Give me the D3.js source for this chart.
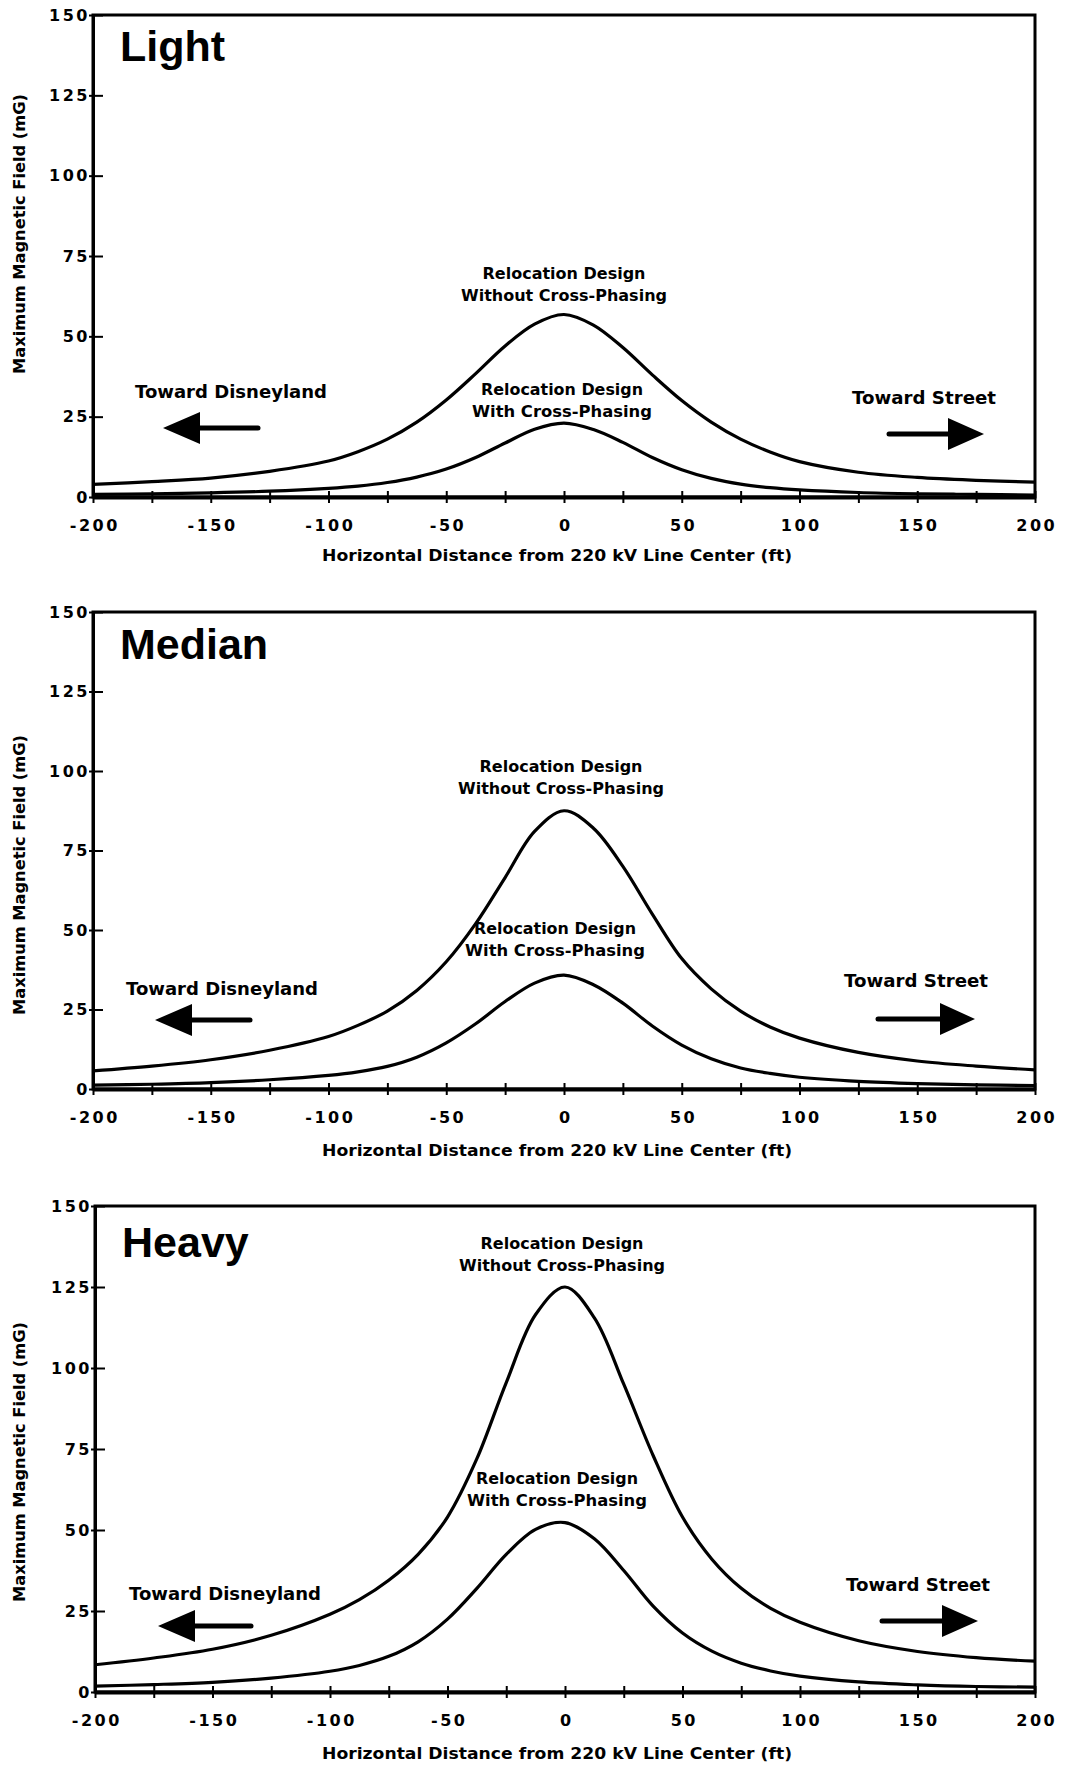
<!DOCTYPE html>
<html>
<head>
<meta charset="utf-8">
<script src="https://cdn.jsdelivr.net/npm/d3@7"></script>
<style>
  html, body { margin: 0; padding: 0; background: #fff; }
  svg { display: block; }
</style>
</head>
<body>
<svg id="chart" width="1071" height="1766"></svg>
<script>
// ---------------- DATA ----------------
const panelTitles = ["Light", "Median", "Heavy"];
const xTickValues = [-200, -175, -150, -125, -100, -75, -50, -25, 0, 25, 50, 75, 100, 125, 150, 175, 200];
const yTickValues = [0, 25, 50, 75, 100, 125, 150];
const distanceFt = [-200, -175, -150, -125, -100, -87.5, -75, -62.5, -50, -37.5, -25, -12.5, 0,
                    12.5, 25, 37.5, 50, 62.5, 75, 87.5, 100, 125, 150, 175, 200];
// Maximum magnetic field (mG)
const lightWithout  = [3.9, 4.8, 5.9, 8.0, 11.2, 14.1, 18.0, 23.3, 30.2, 38.4, 47, 53.8, 56.8,
                       53.5, 46.5, 38, 30, 23.3, 18, 14, 11, 7.7, 6.1, 5.2, 4.6];
const lightWith     = [0.8, 1.0, 1.3, 1.8, 2.7, 3.4, 4.5, 6.2, 8.7, 12.3, 16.8, 21.1, 23,
                       21.0, 17, 12.3, 8.5, 5.8, 4.0, 2.9, 2.2, 1.4, 1.0, 0.8, 0.6];
const medianWithout = [5.7, 7.2, 9.2, 12.2, 16.5, 20, 24.5, 31, 40, 52, 66.5, 81, 87.5,
                       82, 70, 55, 41, 31.5, 24.5, 19.5, 16, 11.5, 8.8, 7.2, 6.0];
const medianWith    = [1.2, 1.5, 2.0, 2.9, 4.3, 5.4, 7.1, 10, 14.5, 20.5, 27.5, 33.3, 35.8,
                       32.8, 27, 19.8, 13.8, 9.5, 6.6, 4.9, 3.7, 2.4, 1.7, 1.3, 1.1];
const heavyWithout  = [8.4, 10.5, 13.2, 17.5, 24, 28.5, 34.5, 42.5, 54, 72, 95.5, 116.5, 125,
                       115.5, 95, 73, 54, 41, 32, 25.8, 21.5, 15.8, 12.5, 10.6, 9.5];
const heavyWith     = [1.8, 2.3, 3.0, 4.3, 6.4, 8.2, 11, 15.5, 22.5, 32, 42.5, 50.2, 52.3,
                       47.3, 37.5, 26.5, 18.2, 12.6, 8.9, 6.5, 4.9, 3.1, 2.2, 1.7, 1.5];
const seriesNames = ["Relocation Design|Without Cross-Phasing", "Relocation Design|With Cross-Phasing"];
const directionLabels = ["Toward Disneyland", "Toward Street"];
const xAxisTitle = "Horizontal Distance from 220 kV Line Center (ft)";
const yAxisTitle = "Maximum Magnetic Field (mG)";

// ---------------- LAYOUT ----------------
const panels = [
  { title: panelTitles[0], up: lightWithout, low: lightWith,
    x0: 93, x1: 1035, top: 15, bottom: 497, titleBase: 61, yTitleC: 234, xTitleBase: 561,
    upLbl: { cx: 564, b: 279 }, lowLbl: { cx: 562, b: 395 },
    leftLbl: { cx: 231, b: 398 }, rightLbl: { cx: 924, b: 404 },
    leftArrow: { tip: 163, base: 200, tail: 258, y: 428 },
    rightArrow: { tip: 984, base: 948, tail: 889, y: 434 } },
  { title: panelTitles[1], up: medianWithout, low: medianWith,
    x0: 93, x1: 1035, top: 612, bottom: 1089, titleBase: 659, yTitleC: 875, xTitleBase: 1156,
    upLbl: { cx: 561, b: 772 }, lowLbl: { cx: 555, b: 934 },
    leftLbl: { cx: 222, b: 995 }, rightLbl: { cx: 916, b: 987 },
    leftArrow: { tip: 155, base: 192, tail: 250, y: 1020 },
    rightArrow: { tip: 975, base: 940, tail: 878, y: 1019 } },
  { title: panelTitles[2], up: heavyWithout, low: heavyWith,
    x0: 95, x1: 1035, top: 1206, bottom: 1692, titleBase: 1257, yTitleC: 1462, xTitleBase: 1759,
    upLbl: { cx: 562, b: 1249 }, lowLbl: { cx: 557, b: 1484 },
    leftLbl: { cx: 225, b: 1600 }, rightLbl: { cx: 918, b: 1591 },
    leftArrow: { tip: 158, base: 195, tail: 251, y: 1626 },
    rightArrow: { tip: 978, base: 942, tail: 882, y: 1621 } }
];

const svg = d3.select("#chart");
const FONT = "'DejaVu Sans', sans-serif";
const TITLE_FONT = "'Liberation Sans', Arial, sans-serif";

function arrow(g, a) {
  const half = 16;
  g.append("line")
    .attr("x1", a.tail).attr("x2", a.base).attr("y1", a.y).attr("y2", a.y)
    .attr("stroke", "#000").attr("stroke-width", 5).attr("stroke-linecap", "round");
  g.append("path")
    .attr("d", `M${a.tip},${a.y} L${a.base},${a.y - half} L${a.base},${a.y + half} Z`)
    .attr("fill", "#000");
}

panels.forEach(p => {
  const x = d3.scaleLinear().domain([-200, 200]).range([p.x0, p.x1]);
  const y = d3.scaleLinear().domain([0, 150]).range([p.bottom, p.top]);
  const g = svg.append("g");

  // frame
  g.append("rect")
    .attr("x", p.x0).attr("y", p.top)
    .attr("width", p.x1 - p.x0).attr("height", p.bottom - p.top)
    .attr("fill", "none").attr("stroke", "#000").attr("stroke-width", 3);

  // y axis
  const yAxis = d3.axisLeft(y).tickValues(yTickValues)
    .tickSizeInner(-10).tickSizeOuter(0).tickPadding(3).tickFormat(d => String(d));
  const ya = g.append("g").attr("transform", `translate(${p.x0},0)`).call(yAxis);
  ya.select(".domain").attr("stroke-width", 3);
  ya.selectAll(".tick line").attr("x1", -4).attr("stroke-width", 2);
  ya.selectAll(".tick text")
    .attr("font-family", FONT).attr("font-weight", "bold").attr("font-size", 16)
    .attr("letter-spacing", "2.5px").attr("fill", "#000");

  // x axis
  const xAxis = d3.axisBottom(x).tickValues(xTickValues)
    .tickSizeInner(6).tickSizeOuter(0).tickPadding(17)
    .tickFormat(d => (d % 50 === 0 ? String(d) : ""));
  const xa = g.append("g").attr("transform", `translate(0,${p.bottom})`).call(xAxis);
  xa.select(".domain").attr("stroke-width", 4);
  xa.selectAll(".tick line").attr("y1", -6).attr("stroke-width", 2);
  xa.selectAll(".tick text")
    .attr("font-family", FONT).attr("font-weight", "bold").attr("font-size", 16)
    .attr("letter-spacing", "2.5px").attr("dx", "1.25px").attr("fill", "#000");

  // curves
  const line = d3.line()
    .x((d, i) => x(distanceFt[i]))
    .y(d => y(d))
    .curve(d3.curveCatmullRom.alpha(0.5));
  [p.up, p.low].forEach(vals => {
    g.append("path").datum(vals)
      .attr("d", line)
      .attr("fill", "none").attr("stroke", "#000").attr("stroke-width", 3.2)
      .attr("stroke-linejoin", "round");
  });

  // panel title
  g.append("text").attr("x", p.x0 + 27).attr("y", p.titleBase)
    .attr("font-family", TITLE_FONT).attr("font-weight", "bold").attr("font-size", 43)
    .text(p.title);

  const addText = (cx, b, txt, size, len) => {
    g.append("text").attr("x", cx).attr("y", b)
      .attr("text-anchor", "middle")
      .attr("font-family", FONT).attr("font-weight", "bold").attr("font-size", size)
      .attr("textLength", len).attr("lengthAdjust", "spacingAndGlyphs")
      .text(txt);
  };
  const upParts = seriesNames[0].split("|");
  const lowParts = seriesNames[1].split("|");
  addText(p.upLbl.cx, p.upLbl.b, upParts[0], 15, 163);
  addText(p.upLbl.cx, p.upLbl.b + 22, upParts[1], 15, 206);
  addText(p.lowLbl.cx, p.lowLbl.b, lowParts[0], 15, 162);
  addText(p.lowLbl.cx, p.lowLbl.b + 22, lowParts[1], 15, 180);

  addText(p.leftLbl.cx, p.leftLbl.b, directionLabels[0], 17, 192);
  addText(p.rightLbl.cx, p.rightLbl.b, directionLabels[1], 17, 144);

  arrow(g, p.leftArrow);
  arrow(g, p.rightArrow);

  // axis titles
  g.append("text").attr("x", 557).attr("y", p.xTitleBase)
    .attr("text-anchor", "middle")
    .attr("font-family", FONT).attr("font-weight", "bold").attr("font-size", 15)
    .attr("textLength", 470).attr("lengthAdjust", "spacingAndGlyphs")
    .text(xAxisTitle);
  g.append("text")
    .attr("transform", `translate(25,${p.yTitleC}) rotate(-90)`)
    .attr("text-anchor", "middle")
    .attr("font-family", FONT).attr("font-weight", "bold").attr("font-size", 15)
    .attr("textLength", 280).attr("lengthAdjust", "spacingAndGlyphs")
    .text(yAxisTitle);
});
</script>
</body>
</html>
